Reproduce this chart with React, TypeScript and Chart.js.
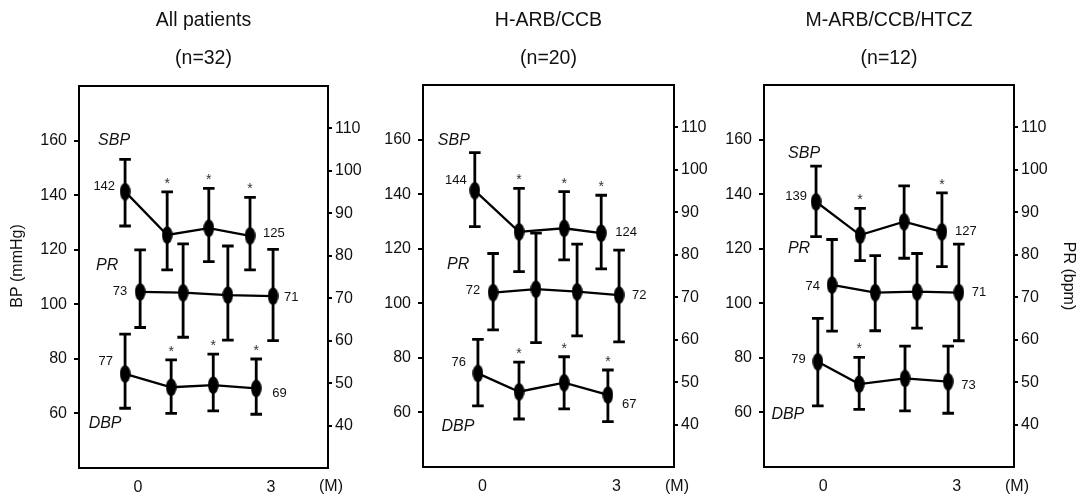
import React, { useEffect, useRef } from 'react';
import { Chart, registerables } from 'chart.js';

Chart.register(...registerables);

// ---------------- DATA ----------------
const panelTitles = ['All patients', 'H-ARB/CCB', 'M-ARB/CCB/HTCZ'];
const panelCounts = ['(n=32)', '(n=20)', '(n=12)'];
const monthTicks = [0, 3];
const monthUnit = '(M)';
const bpTicks = [60, 80, 100, 120, 140, 160];
const prTicks = [40, 50, 60, 70, 80, 90, 100, 110];
const bpAxisTitle = 'BP (mmHg)';
const prAxisTitle = 'PR (bpm)';

// SBP (left axis, mmHg)
const sbpX = [[-0.29, 0.66, 1.6, 2.53], [-0.17, 0.82, 1.83, 2.66], [-0.16, 0.83, 1.82, 2.67]];
const sbpMean = [[141.3, 125.4, 127.9, 125.1], [141.3, 126.2, 127.5, 125.7], [137.2, 125.0, 129.9, 126.2]];
const sbpUpper = [[153.1, 141.2, 142.5, 139.2], [155.2, 142.1, 140.9, 139.6], [150.3, 134.8, 143.0, 140.5]];
const sbpLower = [[128.7, 112.6, 115.6, 112.6], [128.1, 111.6, 115.9, 112.6], [124.4, 115.6, 116.5, 113.4]];
const sbpSig = [[0, 1, 1, 1], [0, 1, 1, 1], [0, 1, 0, 1]];
const sbpFirstLabel = ['142', '144', '139'];
const sbpLastLabel = ['125', '124', '127'];

// PR (right axis, bpm)
const prX = [[0.05, 1.02, 2.03, 3.05], [0.24, 1.2, 2.12, 3.06], [0.2, 1.17, 2.11, 3.05]];
const prMean = [[71.5, 71.3, 70.75, 70.5], [71.1, 71.9, 71.3, 70.5], [72.9, 71.1, 71.3, 71.1]];
const prUpper = [[81.4, 82.8, 82.3, 81.5], [80.3, 85.1, 82.5, 81.1], [83.6, 79.8, 80.3, 82.5]];
const prLower = [[63.1, 60.8, 60.15, 60.0], [62.3, 59.3, 60.9, 59.5], [62.0, 62.1, 62.7, 59.75]];
const prSig = [[0, 0, 0, 0], [0, 0, 0, 0], [0, 0, 0, 0]];
const prFirstLabel = ['73', '72', '74'];
const prLastLabel = ['71', '72', '71'];

// DBP (left axis, mmHg)
const dbpX = [[-0.29, 0.75, 1.7, 2.67], [-0.1, 0.82, 1.83, 2.81], [-0.12, 0.81, 1.84, 2.81]];
const dbpMean = [[74.5, 69.6, 70.4, 69.2], [74.3, 67.6, 70.9, 66.4], [78.6, 70.4, 72.5, 71.3]];
const dbpUpper = [[89.1, 79.6, 81.7, 79.95], [86.8, 78.4, 80.4, 75.55], [94.5, 80.2, 84.3, 84.3]];
const dbpLower = [[61.9, 60.05, 60.9, 59.7], [62.4, 57.6, 61.3, 56.6], [62.4, 61.1, 60.6, 59.7]];
const dbpSig = [[0, 1, 1, 1], [0, 1, 1, 1], [0, 1, 0, 0]];
const dbpFirstLabel = ['77', '76', '79'];
const dbpLastLabel = ['69', '67', '73'];

// ---------------- LAYOUT / STYLE ----------------
const FONT = '"Liberation Sans", Arial, Helvetica, sans-serif';
const PAGE_W = 1078;
const PAGE_H = 496;
const INK = '#111';

const panelLayout = [
  { canvasLeft: 0, width: 388, axisLeft: 79, axisRight: 60, top: 86, bottom: 468 },
  { canvasLeft: 363, width: 371, axisLeft: 60, axisRight: 60, top: 85, bottom: 467 },
  { canvasLeft: 704, width: 374, axisLeft: 60, axisRight: 64, top: 85, bottom: 467 },
];

const nameOffset: Record<string, number[][]> = {
  SBP: [[-11, -51], [-21, -50], [-12, -48]],
  PR: [[-33, -26], [-35, -28], [-33, -36]],
  DBP: [[-20, 50], [-20, 53], [-30, 53]],
};
const firstLabelOffset: Record<string, number[][]> = {
  SBP: [[-10, -5], [-8, -10], [-9, -5]],
  PR: [[-13, 0], [-13, -2], [-12, 2]],
  DBP: [[-12, -12], [-12, -11], [-12, -2]],
};
const lastLabelOffset: Record<string, number[][]> = {
  SBP: [[13, -2], [14, -1], [13, 0]],
  PR: [[11, 1], [13, 0], [13, 0]],
  DBP: [[16, 5], [14, 9], [13, 4]],
};

const seriesDefs = [
  { name: 'SBP', axis: 'y', xs: sbpX, mean: sbpMean, up: sbpUpper, lo: sbpLower, sig: sbpSig, first: sbpFirstLabel, last: sbpLastLabel },
  { name: 'PR', axis: 'y2', xs: prX, mean: prMean, up: prUpper, lo: prLower, sig: prSig, first: prFirstLabel, last: prLastLabel },
  { name: 'DBP', axis: 'y', xs: dbpX, mean: dbpMean, up: dbpUpper, lo: dbpLower, sig: dbpSig, first: dbpFirstLabel, last: dbpLastLabel },
];

let ellipseCache: HTMLCanvasElement | null = null;
function ellipseMarker(): HTMLCanvasElement {
  if (ellipseCache) return ellipseCache;
  const c = document.createElement('canvas');
  c.width = 11;
  c.height = 18;
  const g = c.getContext('2d')!;
  g.fillStyle = '#000';
  g.beginPath();
  g.ellipse(5.5, 9, 5.3, 8.8, 0, 0, Math.PI * 2);
  g.fill();
  ellipseCache = c;
  return c;
}

function decorPlugin(p: number) {
  return {
    id: 'decor' + p,
    beforeDatasetsDraw(chart: any) {
      const ctx = chart.ctx as CanvasRenderingContext2D;
      const xS = chart.scales.x;
      ctx.save();
      ctx.strokeStyle = '#000';
      ctx.lineWidth = 2.8;
      const cap = 5.8;
      seriesDefs.forEach((s) => {
        const yS = chart.scales[s.axis];
        s.xs[p].forEach((xv, i) => {
          const x = xS.getPixelForValue(xv);
          const yHi = yS.getPixelForValue(s.up[p][i]);
          const yLo = yS.getPixelForValue(s.lo[p][i]);
          ctx.beginPath();
          ctx.moveTo(x, yHi);
          ctx.lineTo(x, yLo);
          ctx.moveTo(x - cap, yHi);
          ctx.lineTo(x + cap, yHi);
          ctx.moveTo(x - cap, yLo);
          ctx.lineTo(x + cap, yLo);
          ctx.stroke();
          if (s.sig[p][i]) {
            ctx.fillStyle = '#333';
            ctx.font = `14px ${FONT}`;
            ctx.textAlign = 'center';
            ctx.textBaseline = 'middle';
            ctx.fillText('*', x, yHi - 8);
          }
        });
      });
      ctx.restore();
    },
    afterDraw(chart: any) {
      const ctx = chart.ctx as CanvasRenderingContext2D;
      const a = chart.chartArea;
      const xS = chart.scales.x;
      ctx.save();
      // box
      ctx.strokeStyle = '#000';
      ctx.lineWidth = 2;
      ctx.strokeRect(a.left, a.top, a.right - a.left, a.bottom - a.top);

      ctx.fillStyle = INK;
      ctx.textBaseline = 'middle';
      // titles
      const cx = (a.left + a.right) / 2;
      ctx.textAlign = 'center';
      ctx.font = `19.5px ${FONT}`;
      ctx.fillText(panelTitles[p], cx, 21);
      ctx.fillText(panelCounts[p], cx, 59);

      // (M)
      ctx.font = `16px ${FONT}`;
      ctx.fillText(monthUnit, a.right + 3, 487);

      // series names and value labels
      seriesDefs.forEach((s) => {
        const yS = chart.scales[s.axis];
        const n = s.xs[p].length;
        const x0 = xS.getPixelForValue(s.xs[p][0]);
        const y0 = yS.getPixelForValue(s.mean[p][0]);
        const xn = xS.getPixelForValue(s.xs[p][n - 1]);
        const yn = yS.getPixelForValue(s.mean[p][n - 1]);

        ctx.font = `italic 16px ${FONT}`;
        ctx.textAlign = 'center';
        const no = nameOffset[s.name][p];
        ctx.fillText(s.name, x0 + no[0], y0 + no[1]);

        ctx.font = `13px ${FONT}`;
        const fo = firstLabelOffset[s.name][p];
        ctx.textAlign = 'right';
        ctx.fillText(s.first[p], x0 + fo[0], y0 + fo[1]);
        const lo = lastLabelOffset[s.name][p];
        ctx.textAlign = 'left';
        ctx.fillText(s.last[p], xn + lo[0], yn + lo[1]);
      });

      // axis titles
      ctx.font = `16px ${FONT}`;
      ctx.textAlign = 'center';
      if (p === 0) {
        ctx.save();
        ctx.translate(18, 266);
        ctx.rotate(-Math.PI / 2);
        ctx.fillText(bpAxisTitle, 0, 0);
        ctx.restore();
      }
      if (p === 2) {
        ctx.save();
        ctx.translate(1068 - panelLayout[2].canvasLeft, 276);
        ctx.rotate(Math.PI / 2);
        ctx.fillText(prAxisTitle, 0, 0);
        ctx.restore();
      }
      ctx.restore();
    },
  };
}

function buildConfig(p: number): any {
  const L = panelLayout[p];
  const marker = ellipseMarker();
  const datasets = seriesDefs.map((s) => ({
    label: s.name,
    data: s.xs[p].map((x, i) => ({ x, y: s.mean[p][i] })),
    yAxisID: s.axis,
    borderColor: '#000',
    backgroundColor: '#000',
    borderWidth: 2.3,
    pointStyle: marker,
    pointRadius: 5,
    fill: false,
    tension: 0,
    clip: false,
  }));
  const tickFont = { family: FONT, size: 16 };
  return {
    type: 'line',
    data: { datasets },
    options: {
      animation: false,
      responsive: false,
      devicePixelRatio: 1,
      events: [],
      layout: { padding: { top: L.top, left: 0, right: 0, bottom: 0 } },
      plugins: { legend: { display: false }, tooltip: { enabled: false }, title: { display: false } },
      scales: {
        x: {
          type: 'linear',
          position: 'bottom',
          min: -1.33,
          max: 4.29,
          afterBuildTicks: (sc: any) => { sc.ticks = monthTicks.map((v) => ({ value: v })); },
          afterFit: (sc: any) => { sc.height = PAGE_H - L.bottom; },
          grid: { display: false, drawTicks: false, tickLength: 0 },
          border: { display: false },
          ticks: { padding: 10, color: INK, font: tickFont, maxRotation: 0, autoSkip: false },
        },
        y: {
          type: 'linear',
          position: 'left',
          min: 40,
          max: 180,
          afterBuildTicks: (sc: any) => { sc.ticks = bpTicks.map((v) => ({ value: v })); },
          afterFit: (sc: any) => { sc.width = L.axisLeft; },
          grid: { display: true, drawOnChartArea: false, drawTicks: true, tickLength: 5, color: '#000', lineWidth: 2 },
          border: { display: false },
          ticks: { padding: 7, color: INK, font: tickFont },
        },
        y2: {
          type: 'linear',
          position: 'right',
          min: 30,
          max: 120,
          afterBuildTicks: (sc: any) => { sc.ticks = prTicks.map((v) => ({ value: v })); },
          afterFit: (sc: any) => { sc.width = L.axisRight; },
          grid: { display: true, drawOnChartArea: false, drawTicks: true, tickLength: 4, color: '#000', lineWidth: 2 },
          border: { display: false },
          ticks: { padding: 3, color: INK, font: tickFont },
        },
      },
    },
    plugins: [decorPlugin(p)],
  };
}

function Panel({ index }: { index: number }) {
  const ref = useRef<HTMLCanvasElement>(null);
  useEffect(() => {
    const canvas = ref.current;
    if (!canvas) return;
    const chart = new Chart(canvas, buildConfig(index));
    return () => chart.destroy();
  }, [index]);
  const L = panelLayout[index];
  return (
    <canvas
      ref={ref}
      width={L.width}
      height={PAGE_H}
      style={{ position: 'absolute', left: L.canvasLeft, top: 0, width: L.width, height: PAGE_H }}
    />
  );
}

export default function App() {
  return (
    <div style={{ position: 'absolute', left: 0, top: 0, width: PAGE_W, height: PAGE_H, background: '#fff', overflow: 'hidden' }}>
      {panelTitles.map((_, i) => (
        <Panel key={i} index={i} />
      ))}
    </div>
  );
}
